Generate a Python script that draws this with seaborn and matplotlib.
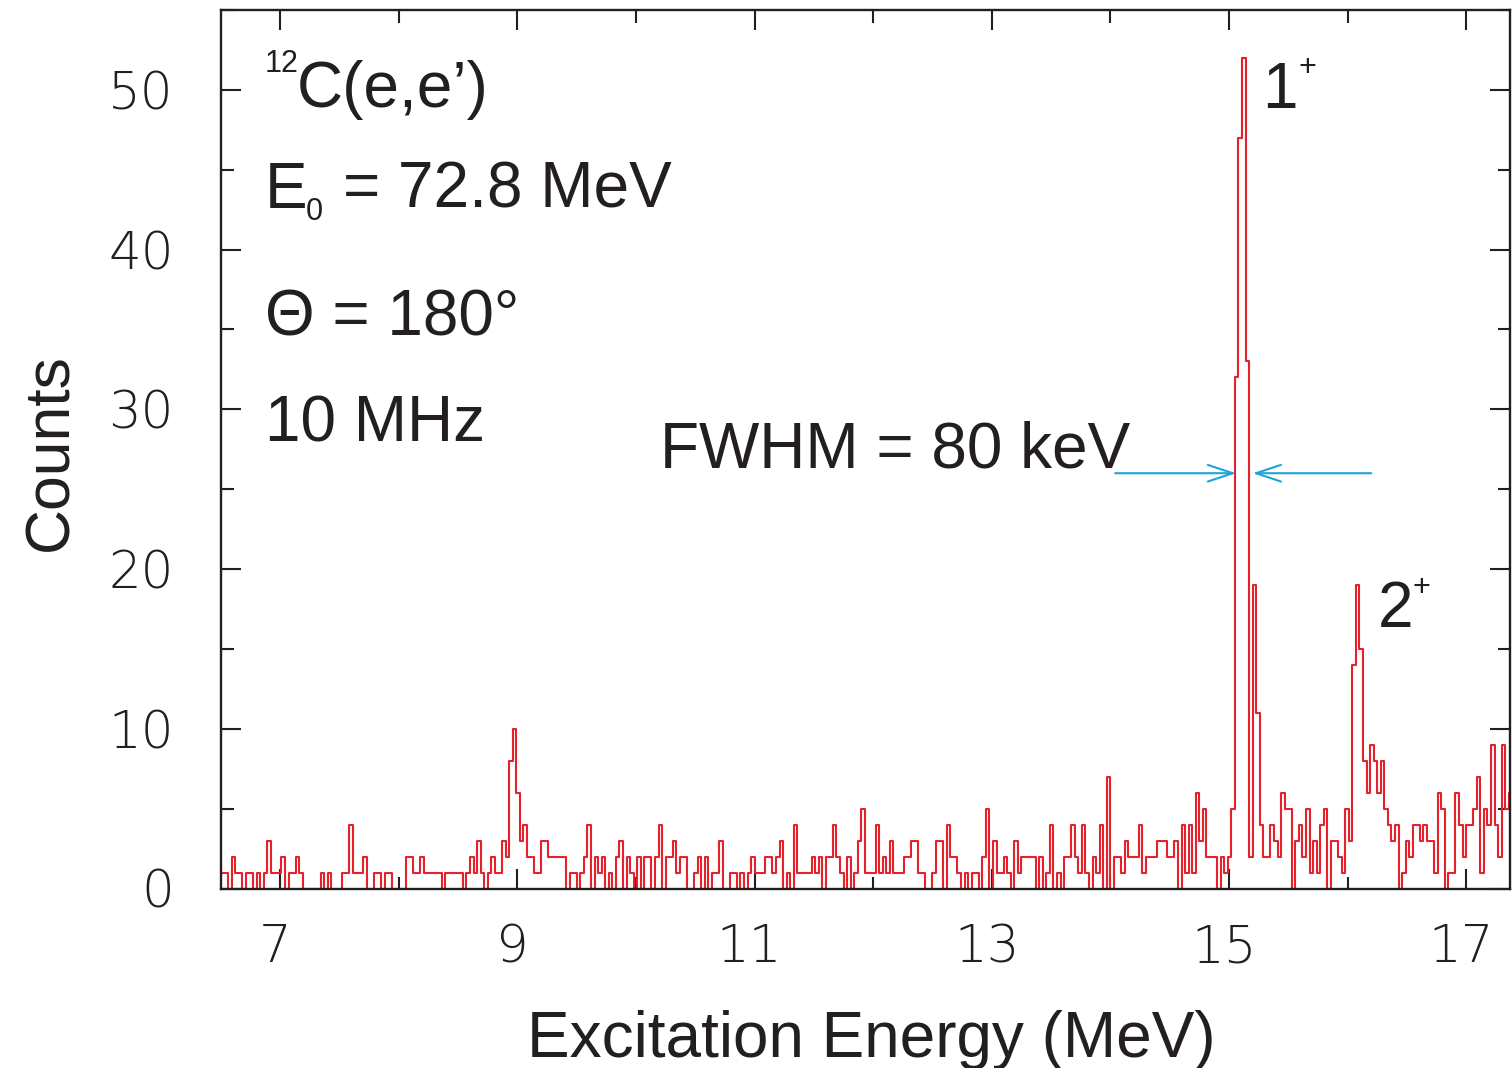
import numpy as np
import pandas as pd
import matplotlib
matplotlib.use("Agg")
import matplotlib.pyplot as plt
import seaborn as sns
from matplotlib import font_manager as fm
from matplotlib.ticker import FixedLocator, MultipleLocator
from matplotlib.transforms import ScaledTranslation

# ---------------- data (counts per 30 keV bin) ----------------
bin_width = 0.03          # MeV
e_start = 6.5             # MeV, first bin edge

counts_6p5_7p6 = [1, 1, 0, 2, 1, 1, 0, 1, 1, 0, 1, 0, 1, 3, 1, 1, 1, 2, 0, 1,
                  1, 2, 1, 0, 0, 0, 0, 0, 1, 0, 1, 0, 0, 0, 1, 1, 4, 1]
counts_7p6_8p8 = [1, 1, 2, 0, 0, 1, 1, 0, 1, 1, 0, 0, 0, 0, 2, 2, 1, 1, 2, 1,
                  1, 1, 1, 1, 0, 1, 1, 1, 1, 1, 0, 1, 2, 1, 3, 1, 0]
counts_8p8_9p9 = [1, 2, 1, 1, 3, 2, 8, 10, 6, 3, 4, 2, 2, 1, 1, 3, 3, 2, 2, 2,
                  2, 2, 0, 1, 1, 0, 1, 2, 4, 0, 2, 1, 2, 0, 1, 0, 2]
counts_9p9_11 = [3, 0, 2, 1, 0, 2, 0, 2, 2, 0, 2, 4, 0, 2, 2, 3, 1, 2, 2, 0,
                 0, 1, 2, 0, 2, 0, 1, 1, 3, 0, 0, 1, 1, 0, 1, 0, 1]
counts_11_12p1 = [2, 1, 1, 1, 2, 2, 1, 2, 3, 0, 1, 0, 4, 1, 1, 1, 1, 2, 1, 2,
                  0, 2, 2, 4, 2, 1, 0, 2, 0, 1, 3, 5, 1, 1, 1, 4]
counts_12p1_13p2 = [1, 2, 1, 3, 1, 1, 1, 2, 2, 3, 3, 1, 1, 0, 0, 1, 3, 3, 0, 4,
                    2, 2, 1, 0, 1, 0, 1, 1, 0, 2, 5, 0, 3, 1, 1, 2, 1, 0, 3]
counts_13p2_14p3 = [1, 2, 2, 2, 2, 0, 2, 0, 1, 4, 0, 1, 0, 2, 2, 4, 2, 1, 4, 1,
                    0, 2, 1, 4, 0, 7, 0, 2, 2, 1, 3, 2, 2, 2, 4, 1]
counts_14p3_15 = [2, 2, 2, 3, 3, 3, 2, 2, 3, 0, 4, 1, 4, 1, 6, 3, 5, 2, 2, 2,
                  0, 2, 1, 2]
counts_peak_1plus = [5, 32, 47, 52, 33, 2, 19, 11, 4]
counts_15p3_16p4 = [2, 2, 4, 3, 2, 6, 5, 5, 0, 3, 4, 2, 5, 1, 3, 1, 4, 5, 0, 3,
                    3, 2, 1, 5, 3, 14, 19, 15, 8, 6, 9, 8, 6, 8, 5, 4, 3, 4]
counts_16p4_17p4 = [0, 1, 3, 2, 4, 4, 3, 4, 3, 3, 1, 6, 5, 0, 1, 1, 6, 4, 2, 4,
                    4, 5, 7, 1, 5, 4, 9, 4, 2, 9, 5, 6]

counts = (counts_6p5_7p6 + counts_7p6_8p8 + counts_8p8_9p9 + counts_9p9_11 +
          counts_11_12p1 + counts_12p1_13p2 + counts_13p2_14p3 + counts_14p3_15 +
          counts_peak_1plus + counts_15p3_16p4 + counts_16p4_17p4)

x_major = [7, 9, 11, 13, 15, 17]
x_minor = [8, 10, 12, 14, 16]
x_limits = (6.5, 17.37)
y_limits = (0, 55)

fwhm_level = 26.0
fwhm_left_arrow = (14.04, 15.06)
fwhm_right_arrow = (16.20, 15.20)

n_bins = len(counts)
centers = e_start + bin_width * (np.arange(n_bins) + 0.5)
df = pd.DataFrame({"energy": centers, "counts": counts})

# ---------------- style ----------------
sns.set_theme(style="ticks")
plt.rcParams["font.family"] = ["Liberation Sans", "DejaVu Sans"]

# thin, wide digits for the tick labels if a light face is installed
_faces = [(f.name, f.weight) for f in fm.fontManager.ttflist]
tick_font = dict(family="Liberation Sans", weight="normal", size=37)
if any(n == "DejaVu Sans" and w in (200, "extra light", "ultralight") for n, w in _faces):
    tick_font = dict(family="DejaVu Sans", weight=200, size=37)
elif any(n == "Roboto" and w in (300, "light") for n, w in _faces):
    tick_font = dict(family="Roboto", weight=300, size=38)

W, H = 1512, 1068
fig = plt.figure(figsize=(W / 100, H / 100), dpi=100)
ax_l, ax_r, ax_b, ax_t = 221, 1510, 888.5, 10
ax = fig.add_axes([ax_l / W, (H - ax_b) / H, (ax_r - ax_l) / W, (ax_b - ax_t) / H])

red = "#e5212b"
cyan = "#1ea2dc"
ink = "#231f20"

sns.histplot(data=df, x="energy", weights="counts", bins=n_bins,
             binrange=(e_start, e_start + bin_width * n_bins),
             element="step", fill=False, color=red, linewidth=1.5, ax=ax)

ax.set_xlim(*x_limits)
ax.set_ylim(*y_limits)
ax.xaxis.set_major_locator(FixedLocator(x_major))
ax.xaxis.set_minor_locator(FixedLocator(x_minor))
ax.yaxis.set_major_locator(MultipleLocator(10))
ax.yaxis.set_minor_locator(MultipleLocator(5))

for s in ax.spines.values():
    s.set_visible(True)
    s.set_linewidth(1.7)
    s.set_color(ink)

ax.tick_params(which="both", direction="in", top=True, right=True,
               color=ink, width=1.5)
ax.tick_params(which="major", length=14.5, labelcolor=ink)
ax.tick_params(which="minor", length=9)
ax.tick_params(axis="x", which="major", pad=25)
ax.tick_params(axis="y", which="major", pad=34)
fig.canvas.draw()
for lab in ax.get_xticklabels() + ax.get_yticklabels():
    lab.set_fontfamily(tick_font["family"])
    lab.set_fontweight(tick_font["weight"])
    lab.set_fontsize(tick_font["size"])
for lab in ax.get_xticklabels():
    lab.set_transform(lab.get_transform() + ScaledTranslation(-5 / 100, 0, fig.dpi_scale_trans))


def axfrac(px, py):
    return ((px - ax_l) / (ax_r - ax_l), (ax_b - py) / (ax_b - ax_t))


ax.set_xlabel("Excitation Energy (MeV)", fontsize=46, color=ink)
ax.xaxis.label.set_verticalalignment("baseline")
ax.xaxis.set_label_coords(*axfrac(871, 1057))
ax.set_ylabel("Counts", fontsize=45, color=ink)
ax.yaxis.label.set_verticalalignment("baseline")
ax.yaxis.label.set_rotation_mode("anchor")
ax.yaxis.set_label_coords(*axfrac(67, 452))

txt = dict(transform=ax.transAxes, color=ink, va="baseline", ha="left")
big = 46
small = 22
ax.text(*axfrac(265, 72), "12", fontsize=small, **txt)
ax.text(*axfrac(297, 107), "C(e,e\u2019)", fontsize=big, **txt)
ax.text(*axfrac(265, 208), "E", fontsize=big, **txt)
ax.text(*axfrac(306, 220), "0", fontsize=small, **txt)
ax.text(*axfrac(343, 208), "= 72.8 MeV", fontsize=big, **txt)
ax.text(*axfrac(265, 335), "\u0398 = 180\u00b0", fontsize=big, **txt)
ax.text(*axfrac(265, 442), "10 MHz", fontsize=big, **txt)
ax.text(*axfrac(660, 467), "FWHM = 80 keV", fontsize=big, **txt)
ax.text(*axfrac(1262, 108), "1", fontsize=big, **txt)
ax.text(*axfrac(1299, 76), "+", fontsize=small, **txt)
ax.text(*axfrac(1378, 627), "2", fontsize=big, **txt)
ax.text(*axfrac(1413, 596), "+", fontsize=small, **txt)

arrow = dict(arrowstyle="->,head_length=0.9,head_width=0.3", color=cyan,
             lw=1.5, mutation_scale=20, shrinkA=0, shrinkB=0)
ax.annotate("", xy=(fwhm_left_arrow[1], fwhm_level),
            xytext=(fwhm_left_arrow[0], fwhm_level), arrowprops=arrow)
ax.annotate("", xy=(fwhm_right_arrow[1], fwhm_level),
            xytext=(fwhm_right_arrow[0], fwhm_level), arrowprops=arrow)

fig.savefig("out.png", dpi=100)
